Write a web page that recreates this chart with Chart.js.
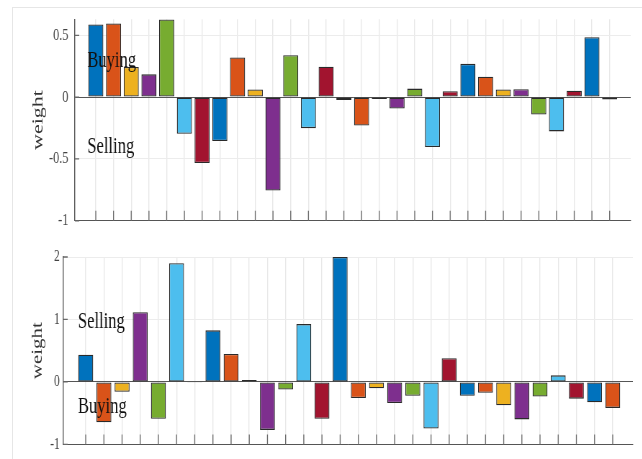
<!DOCTYPE html>
<html>
<head>
<meta charset="utf-8">
<script src="https://cdn.jsdelivr.net/npm/chart.js@4.4.1/dist/chart.umd.min.js"></script>
<style>
  body { margin: 0; background: #fff; width: 642px; height: 459px; overflow: hidden; position: relative; }
  #frame { position: absolute; left: 12px; top: 7px; width: 700px; height: 500px; border: 1px solid #e6e6e6; }
  /* the original figure is squeezed sideways, so draw wide and squash */
  .wrap { position: absolute; left: 0; transform: scaleX(0.72); transform-origin: 0 0; }
</style>
</head>
<body>
<div id="frame"></div>
<div class="wrap" style="top:0px"><canvas id="topChart" width="892" height="240"></canvas></div>
<div class="wrap" style="top:240px"><canvas id="bottomChart" width="892" height="219"></canvas></div>

<script>
// bar numbers along the x axis (labels are unreadable in the picture)
const barNumbers = [1,2,3,4,5,6,7,8,9,10,11,12,13,14,15,16,17,18,19,20,21,22,23,24,25,26,27,28,29,30];

// upper panel weights
const weightsTop = [0.587, 0.595, 0.243, 0.184, 0.627, -0.296, -0.533, -0.355, 0.32, 0.061,
                    -0.755, 0.339, -0.251, 0.245, -0.024, -0.229, -0.016, -0.093, 0.069, -0.403,
                    0.048, 0.269, 0.165, 0.061, 0.064, -0.141, -0.277, 0.051, 0.485, -0.019];

// lower panel weights
const weightsBottom = [0.437, -0.647, -0.158, 1.116, -0.589, 1.9, -0.005, 0.826, 0.447, 0.032,
                       -0.768, -0.121, 0.926, -0.589, 2.0, -0.258, -0.1, -0.337, -0.221, -0.747,
                       0.379, -0.221, -0.174, -0.374, -0.6, -0.232, 0.105, -0.268, -0.326, -0.416];

const yTicksTop = [-1, -0.5, 0, 0.5];
const yTicksBottom = [-1, 0, 1, 2];

// matlab default colour order
const matlabColors = ['#0072BD', '#D95319', '#EDB120', '#7E2F8E', '#77AC30', '#4DBEEE', '#A2142F'];

// inside tick marks + Buying / Selling text
const insideTicks = {
  id: 'insideTicks',
  afterDraw(chart, args, opts) {
    const ctx = chart.ctx, a = chart.chartArea;
    const xs = chart.scales.x, ys = chart.scales.y;
    ctx.save();
    ctx.strokeStyle = '#6a6a6a';
    ctx.lineWidth = 1.3;
    ctx.beginPath();
    xs.ticks.forEach(t => {
      const px = xs.getPixelForValue(t.value);
      ctx.moveTo(px, a.bottom);
      ctx.lineTo(px, a.bottom - 10);
    });
    ys.ticks.forEach(t => {
      const py = ys.getPixelForValue(t.value);
      ctx.moveTo(a.left, py);
      ctx.lineTo(a.left + 6, py);
    });
    ctx.stroke();
    ctx.fillStyle = '#111';
    ctx.font = opts.font;
    ctx.textBaseline = 'alphabetic';
    (opts.notes || []).forEach(n => {
      ctx.fillText(n.text, xs.getPixelForValue(n.x), ys.getPixelForValue(n.y));
    });
    ctx.restore();
  }
};

function makeChart(id, values, s) {
  new Chart(id, {
    type: 'bar',
    data: {
      datasets: [{
        data: values.map((v, i) => ({ x: barNumbers[i], y: v })),
        backgroundColor: values.map((v, i) => matlabColors[i % 7]),
        borderColor: '#2a2a2a',
        borderWidth: 1.3,
        borderSkipped: false,
        barPercentage: s.barPct,
        categoryPercentage: 1
      }]
    },
    options: {
      responsive: false,
      animation: false,
      layout: { padding: { left: 0, right: s.padRight, top: s.padTop, bottom: 0 } },
      plugins: {
        legend: { display: false },
        tooltip: { enabled: false },
        insideTicks: { font: '23px "Liberation Serif"', notes: s.notes }
      },
      scales: {
        x: {
          type: 'linear',
          offset: false,
          min: s.xMin, max: s.xMax,
          afterBuildTicks: sc => { sc.ticks = barNumbers.map(n => ({ value: n })); },
          afterFit: sc => { sc.height = s.xHeight; },
          ticks: { display: false },
          grid: { offset: false, color: '#e8e8e8', lineWidth: 1.4, drawTicks: false },
          border: { color: '#555', width: 1 }
        },
        y: {
          min: s.yMin, max: s.yMax,
          afterBuildTicks: sc => { sc.ticks = s.yTicks.map(v => ({ value: v })); },
          afterFit: sc => { sc.width = s.yWidth; },
          ticks: {
            padding: s.tickPad,
            color: '#444',
            font: { family: 'Liberation Serif', size: s.tickSize },
            callback: v => String(v)
          },
          grid: {
            drawTicks: false,
            color: c => (c.tick && c.tick.value === 0) ? '#555' : '#ececec',
            lineWidth: 1
          },
          border: { color: '#555', width: 1.4 },
          title: {
            display: true,
            text: 'weight',
            color: '#333',
            font: { family: 'Liberation Serif', size: s.titleSize },
            padding: { top: s.titlePad, bottom: 0 }
          }
        }
      }
    },
    plugins: [insideTicks]
  });
}

makeChart('topChart', weightsTop, {
  barPct: 0.85, padRight: 16, padTop: 19, xHeight: 18, yWidth: 104,
  xMin: -0.18, xMax: 31.19, yMin: -1, yMax: 0.63, yTicks: yTicksTop,
  tickPad: 9, tickSize: 17, titleSize: 22, titlePad: 40,
  notes: [{ text: 'Buying', x: 0.52, y: 0.245 }, { text: 'Selling', x: 0.52, y: -0.454 }]
});

makeChart('bottomChart', weightsBottom, {
  barPct: 0.82, padRight: 13, padTop: 17, xHeight: 12, yWidth: 88,
  xMin: -0.23, xMax: 31.11, yMin: -1, yMax: 2, yTicks: yTicksBottom,
  tickPad: 5, tickSize: 16, titleSize: 21, titlePad: 40,
  notes: [{ text: 'Selling', x: 0.57, y: 0.87 }, { text: 'Buying', x: 0.57, y: -0.5 }]
});
</script>
</body>
</html>
